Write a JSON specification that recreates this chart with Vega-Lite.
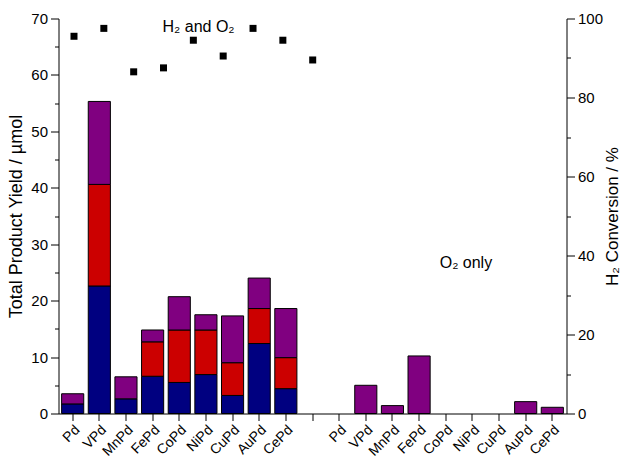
{
  "$schema": "https://vega.github.io/schema/vega-lite/v6.json",
  "width": 508,
  "height": 395,
  "autosize": {"type": "none"},
  "padding": {"left": 58.5, "top": 18.5, "right": 56.5, "bottom": 53.5},
  "background": "white",
  "config": {
    "view": {"stroke": null},
    "font": "Liberation Sans",
    "axis": {
      "labelFont": "Liberation Sans",
      "titleFont": "Liberation Sans",
      "labelColor": "#000",
      "titleColor": "#000",
      "domainColor": "#000",
      "tickColor": "#000",
      "grid": false,
      "titleFontWeight": "normal"
    }
  },
  "datasets": {
    "bars": [
      {"slot": "HO|Pd", "product": "P1", "yield": 1.7},
      {"slot": "HO|Pd", "product": "P3", "yield": 1.8},
      {"slot": "HO|VPd", "product": "P1", "yield": 22.6},
      {"slot": "HO|VPd", "product": "P2", "yield": 18.0},
      {"slot": "HO|VPd", "product": "P3", "yield": 14.7},
      {"slot": "HO|MnPd", "product": "P1", "yield": 2.6},
      {"slot": "HO|MnPd", "product": "P3", "yield": 3.9},
      {"slot": "HO|FePd", "product": "P1", "yield": 6.6},
      {"slot": "HO|FePd", "product": "P2", "yield": 6.1},
      {"slot": "HO|FePd", "product": "P3", "yield": 2.1},
      {"slot": "HO|CoPd", "product": "P1", "yield": 5.5},
      {"slot": "HO|CoPd", "product": "P2", "yield": 9.3},
      {"slot": "HO|CoPd", "product": "P3", "yield": 5.9},
      {"slot": "HO|NiPd", "product": "P1", "yield": 6.9},
      {"slot": "HO|NiPd", "product": "P2", "yield": 7.9},
      {"slot": "HO|NiPd", "product": "P3", "yield": 2.7},
      {"slot": "HO|CuPd", "product": "P1", "yield": 3.2},
      {"slot": "HO|CuPd", "product": "P2", "yield": 5.8},
      {"slot": "HO|CuPd", "product": "P3", "yield": 8.3},
      {"slot": "HO|AuPd", "product": "P1", "yield": 12.4},
      {"slot": "HO|AuPd", "product": "P2", "yield": 6.2},
      {"slot": "HO|AuPd", "product": "P3", "yield": 5.4},
      {"slot": "HO|CePd", "product": "P1", "yield": 4.4},
      {"slot": "HO|CePd", "product": "P2", "yield": 5.5},
      {"slot": "HO|CePd", "product": "P3", "yield": 8.7},
      {"slot": "O|VPd", "product": "P3", "yield": 5.0},
      {"slot": "O|MnPd", "product": "P3", "yield": 1.4},
      {"slot": "O|FePd", "product": "P3", "yield": 10.2},
      {"slot": "O|AuPd", "product": "P3", "yield": 2.1},
      {"slot": "O|CePd", "product": "P3", "yield": 1.1}
    ],
    "conv": [
      {"catalyst": "Pd", "conv": 95.5},
      {"catalyst": "VPd", "conv": 97.5},
      {"catalyst": "MnPd", "conv": 86.5},
      {"catalyst": "FePd", "conv": 87.5},
      {"catalyst": "CoPd", "conv": 94.5},
      {"catalyst": "NiPd", "conv": 90.5},
      {"catalyst": "CuPd", "conv": 97.5},
      {"catalyst": "AuPd", "conv": 94.5},
      {"catalyst": "CePd", "conv": 89.5}
    ],
    "notes": [
      {"label": "H₂ and O₂", "slot": "HO|NiPd", "conv": 96.5},
      {"label": "O₂ only", "slot": "O|NiPd", "conv": 36.8}
    ]
  },
  "layer": [
    {
      "data": {"name": "bars"},
      "mark": {"type": "bar", "stroke": "#000", "strokeWidth": 1},
      "encoding": {
        "x": {
          "field": "slot",
          "type": "nominal",
          "scale": {
            "domain": ["HO|Pd", "HO|VPd", "HO|MnPd", "HO|FePd", "HO|CoPd", "HO|NiPd", "HO|CuPd", "HO|AuPd", "HO|CePd", "gap", "O|Pd", "O|VPd", "O|MnPd", "O|FePd", "O|CoPd", "O|NiPd", "O|CuPd", "O|AuPd", "O|CePd"],
            "paddingInner": 0.17,
            "paddingOuter": 0.117
          },
          "axis": {
            "title": null,
            "labelExpr": "datum.value == 'gap' ? '' : split(datum.value, '|')[1]",
            "labelAngle": -45,
            "labelAlign": "right",
            "labelBaseline": "top",
            "labelFontSize": 14,
            "labelPadding": 2,
            "tickSize": 7,
            "domainWidth": 1,
            "labelOverlap": false
          }
        },
        "y": {
          "field": "yield",
          "type": "quantitative",
          "stack": "zero",
          "scale": {"domain": [0, 70], "nice": false},
          "axis": {
            "orient": "left",
            "title": "Total Product Yield / µmol",
            "titleFontSize": 18,
            "titlePadding": 5,
            "values": [0, 5, 10, 15, 20, 25, 30, 35, 40, 45, 50, 55, 60, 65, 70],
            "labelExpr": "datum.value % 10 == 0 ? datum.label : ''",
            "labelFontSize": 15,
            "labelPadding": 3,
            "tickSize": {"condition": {"test": "datum.value % 10 == 0", "value": 8}, "value": 4}
          }
        },
        "color": {
          "field": "product",
          "type": "nominal",
          "scale": {"domain": ["P1", "P2", "P3"], "range": ["#000080", "#cc0000", "#800080"]},
          "legend": null
        },
        "order": {"field": "product", "sort": "ascending"}
      }
    },
    {
      "data": {"name": "conv"},
      "mark": {"type": "square", "filled": true, "color": "#000", "size": 49, "opacity": 1},
      "encoding": {
        "x": {
          "field": "catalyst",
          "type": "nominal",
          "scale": {"type": "point", "domain": ["Pd", "VPd", "MnPd", "FePd", "CoPd", "NiPd", "CuPd", "AuPd", "CePd"], "range": [15.5, 254.2], "padding": 0},
          "axis": null
        },
        "y": {
          "field": "conv",
          "type": "quantitative",
          "scale": {"domain": [0, 100], "nice": false},
          "axis": {
            "orient": "right",
            "title": "H₂ Conversion / %",
            "titleFontSize": 17,
            "titleAngle": 270,
            "titleBaseline": "top",
            "titlePadding": 2,
            "values": [0, 10, 20, 30, 40, 50, 60, 70, 80, 90, 100],
            "labelExpr": "datum.value % 20 == 0 ? datum.label : ''",
            "labelFontSize": 15,
            "labelPadding": 3,
            "tickSize": {"condition": {"test": "datum.value % 20 == 0", "value": 8}, "value": 4}
          }
        }
      }
    },
    {
      "data": {"name": "notes"},
      "mark": {"type": "text", "fontSize": 16, "font": "Liberation Sans", "color": "#000", "align": "center", "baseline": "alphabetic", "dx": -7},
      "encoding": {
        "x": {
          "field": "slot",
          "type": "nominal",
          "scale": {
            "domain": ["HO|Pd", "HO|VPd", "HO|MnPd", "HO|FePd", "HO|CoPd", "HO|NiPd", "HO|CuPd", "HO|AuPd", "HO|CePd", "gap", "O|Pd", "O|VPd", "O|MnPd", "O|FePd", "O|CoPd", "O|NiPd", "O|CuPd", "O|AuPd", "O|CePd"],
            "paddingInner": 0.17,
            "paddingOuter": 0.117
          },
          "axis": null
        },
        "y": {
          "field": "conv",
          "type": "quantitative",
          "scale": {"domain": [0, 100], "nice": false},
          "axis": null
        },
        "text": {"field": "label"}
      }
    }
  ],
  "resolve": {"scale": {"x": "independent", "y": "independent"}, "axis": {"x": "independent", "y": "independent"}}
}
